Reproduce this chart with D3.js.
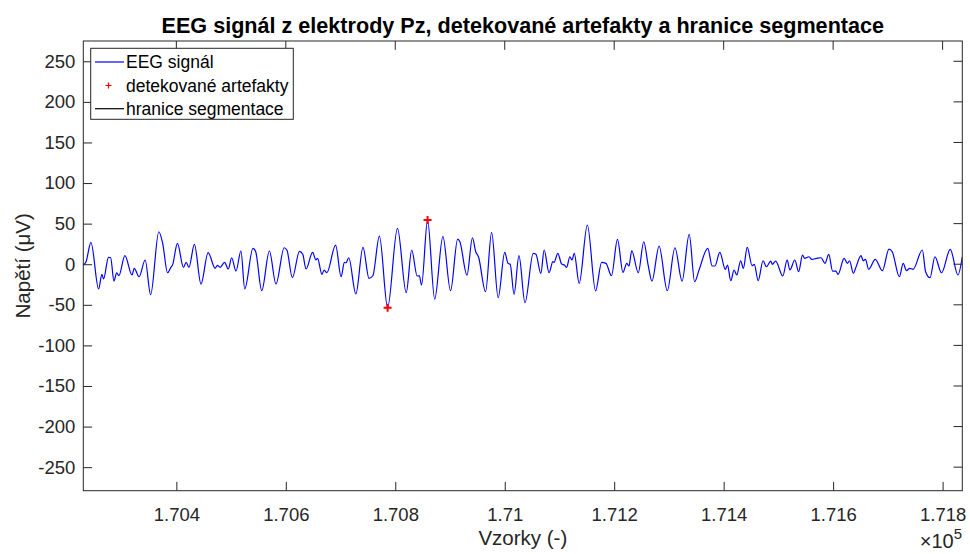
<!DOCTYPE html>
<html>
<head>
<meta charset="utf-8">
<script src="https://cdn.jsdelivr.net/npm/d3@7/dist/d3.min.js"></script>
<style>
  html, body { margin: 0; padding: 0; background: #fff; }
  svg { display: block; font-family: "Liberation Sans", Arial, Helvetica, sans-serif; }
</style>
</head>
<body>
<svg id="chart" width="970" height="554"></svg>
<script>
// Sample indices of the EEG trace (channel Pz)
const sampleIdx = [
  170230, 170235, 170244, 170258, 170264, 170267, 170276, 170280, 170286, 170291,
  170295, 170306, 170319, 170323, 170332, 170343, 170353, 170368, 170375, 170384,
  170390, 170393, 170402, 170413, 170418, 170423, 170433, 170445, 170458, 170471,
  170475, 170480, 170488, 170495, 170501, 170509, 170518, 170525, 170540, 170545,
  170556, 170570, 170582, 170597, 170602, 170612, 170625, 170631, 170637, 170649,
  170655, 170658, 170666, 170670, 170675, 170691, 170701, 170707, 170710, 170715,
  170728, 170741, 170752, 170759, 170771, 170786, 170804, 170820, 170830, 170840,
  170844, 170848, 170859, 170872, 170887, 170901, 170914, 170918, 170931, 170941,
  170947, 170952, 170965, 170976, 170988, 171000, 171006, 171010, 171017, 171026,
  171037, 171052, 171057, 171066, 171072, 171081, 171088, 171090, 171097, 171104,
  171109, 171113, 171119, 171123, 171127, 171136, 171151, 171166, 171177, 171185,
  171195, 171206, 171216, 171223, 171227, 171232, 171244, 171254, 171262, 171269,
  171282, 171297, 171311, 171324, 171337, 171347, 171355, 171371, 171379, 171384,
  171393, 171403, 171407, 171413, 171419, 171424, 171431, 171436, 171443, 171452,
  171456, 171463, 171472, 171478, 171486, 171489, 171495, 171508, 171516, 171521,
  171530, 171537, 171544, 171548, 171556, 171561, 171570, 171578, 171585, 171592,
  171599, 171605, 171609, 171620, 171626, 171630, 171637, 171641, 171651, 171655,
  171659, 171665, 171677, 171690, 171702, 171708, 171721, 171728, 171734, 171740,
  171746, 171763, 171769, 171777, 171786, 171798, 171814, 171828, 171836
];

// Voltage at each sample (µV)
const eegValues = [
  -1.0, 3.1, 27.0, -30.5, -12.4, -18.2, 8.5, 8.0, -20.7, -10.5,
  -14.2, 10.5, -13.3, -5.0, -15.4, 5.2, -37.6, 40.0, 25.7, -10.5,
  -3.8, -1.0, 25.7, -3.8, 2.3, -3.8, 24.5, -24.4, 14.2, -5.0,
  -1.4, -3.8, 2.3, -5.9, 8.0, -8.4, 16.3, -30.5, 19.6, 15.4,
  -32.6, 16.3, -24.4, 20.3, 17.5, -16.6, 15.9, 12.2, -5.9, 14.7,
  5.2, 7.3, -12.4, -7.1, -10.5, 23.6, -15.4, 2.3, 1.8, 8.0,
  -36.7, 20.8, -17.4, -14.2, 34.7, -53.6, 44.2, -35.1, 17.5, -14.5,
  -14.2, -25.6, 54.4, -42.9, 33.9, -32.6, 31.0, 27.7, -13.3, 32.6,
  15.4, 9.2, -33.9, 39.3, -41.3, 14.7, 1.1, -0.1, -37.1, 10.5,
  -47.4, 13.4, 12.2, -11.2, 17.5, -10.5, 3.1, 2.3, 13.4, 0.2,
  -1.0, -3.8, 9.2, 5.2, 13.4, -23.5, 48.3, -33.0, 2.3, 1.1,
  -14.2, 30.7, -10.0, 1.1, -2.2, 16.6, -10.5, 27.7, -1.0, -20.7,
  22.4, -32.6, 20.3, -20.7, 36.8, -21.6, -7.1, 19.6, -2.2, -2.2,
  14.7, -6.3, -1.0, -20.3, -7.1, -13.3, 4.3, -5.0, 20.8, -1.8,
  -0.1, -20.3, 4.3, -3.1, 3.9, -0.1, 3.9, -14.5, 5.2, -7.1,
  5.2, -9.2, 11.3, 7.3, 9.2, 6.0, 7.3, 8.0, 1.1, 12.2,
  -8.4, -8.4, -12.4, 7.3, 1.1, 4.3, -11.2, -5.0, 10.5, 4.3,
  6.0, -6.3, 6.0, -8.0, 18.7, 15.4, -15.4, 1.1, -8.0, -5.0,
  -6.3, 17.5, -9.2, -16.6, 9.2, -10.5, 18.3, -13.3, 9.2
];

// Detected artefacts
const artifactSamples = [170786, 170859];
const artifactValues = [-53.6, 54.4];

// Segmentation boundaries inside the shown window (none fall here)
const segmentBoundaries = [];

// Axis ticks
const xTicks = [170400, 170600, 170800, 171000, 171200, 171400, 171600, 171800];
const yTicks = [-250, -200, -150, -100, -50, 0, 50, 100, 150, 200, 250];

const legendLabels = ["EEG signál", "detekované artefakty", "hranice segmentace"];

const axisColor = "#262626";
const svg = d3.select("#chart");

const plot = { left: 83.3, right: 962.3, top: 41, bottom: 490.7 };
const x = d3.scaleLinear().domain([170230, 171836]).range([plot.left, plot.right]);
const y = d3.scaleLinear().domain([-279, 275]).range([plot.bottom, plot.top]);
const tickLen = 8.8;

// Title
svg.append("text")
  .attr("x", (plot.left + plot.right) / 2)
  .attr("y", 33)
  .attr("text-anchor", "middle")
  .attr("font-size", "21.6px")
  .attr("font-weight", "bold")
  .attr("fill", "#000")
  .text("EEG signál z elektrody Pz, detekované artefakty a hranice segmentace");

// Clip region for the data
svg.append("defs").append("clipPath").attr("id", "clip")
  .append("rect")
  .attr("x", plot.left).attr("y", plot.top)
  .attr("width", plot.right - plot.left).attr("height", plot.bottom - plot.top);

const dataG = svg.append("g").attr("clip-path", "url(#clip)");

// Signal trace
const points = sampleIdx.map((s, i) => [s, eegValues[i]]);
const line = d3.line()
  .x(d => x(d[0]))
  .y(d => y(d[1]))
  .curve(d3.curveMonotoneX);

dataG.append("path")
  .datum(points)
  .attr("d", line)
  .attr("fill", "none")
  .attr("stroke", "#0000ff")
  .attr("stroke-width", 1.2)
  .attr("stroke-linejoin", "round");

// Segmentation boundaries as vertical lines
dataG.selectAll("line.seg")
  .data(segmentBoundaries)
  .enter().append("line")
  .attr("class", "seg")
  .attr("x1", d => x(d)).attr("x2", d => x(d))
  .attr("y1", plot.top).attr("y2", plot.bottom)
  .attr("stroke", "#000").attr("stroke-width", 1);

// Artefact markers ("+")
const plusPath = (cx, cy, r) => `M${cx - r},${cy}H${cx + r}M${cx},${cy - r}V${cy + r}`;
dataG.selectAll("path.art")
  .data(artifactSamples.map((s, i) => [s, artifactValues[i]]))
  .enter().append("path")
  .attr("class", "art")
  .attr("d", d => plusPath(x(d[0]), y(d[1]), 4))
  .attr("stroke", "#ff0000")
  .attr("stroke-width", 2)
  .attr("fill", "none");

// Axes frame
const axesG = svg.append("g");
axesG.append("rect")
  .attr("x", plot.left).attr("y", plot.top)
  .attr("width", plot.right - plot.left).attr("height", plot.bottom - plot.top)
  .attr("fill", "none").attr("stroke", axisColor).attr("stroke-width", 1);

// Bottom axis (inward ticks)
const xAxis = d3.axisBottom(x)
  .tickValues(xTicks)
  .tickSize(-tickLen)
  .tickPadding(17)
  .tickFormat(d => d3.format(".4~f")(d / 1e5));
const gx = svg.append("g").attr("transform", `translate(0,${plot.bottom})`).call(xAxis);
gx.select(".domain").remove();
gx.selectAll("line").attr("stroke", axisColor);
gx.selectAll("text").attr("fill", axisColor).attr("font-size", "18.5px")
  .attr("font-family", "Liberation Sans, Arial, sans-serif");

// Top ticks
svg.append("g").selectAll("line")
  .data(xTicks).enter().append("line")
  .attr("x1", d => x(d)).attr("x2", d => x(d))
  .attr("y1", plot.top).attr("y2", plot.top + tickLen)
  .attr("stroke", axisColor);

// Left axis
const yAxis = d3.axisLeft(y)
  .tickValues(yTicks)
  .tickSize(-tickLen)
  .tickPadding(8)
  .tickFormat(d3.format("d"));
const gy = svg.append("g").attr("transform", `translate(${plot.left},0)`).call(yAxis);
gy.select(".domain").remove();
gy.selectAll("line").attr("stroke", axisColor);
gy.selectAll("text").attr("fill", axisColor).attr("font-size", "18.5px")
  .attr("font-family", "Liberation Sans, Arial, sans-serif")
  .text(d => d < 0 ? "-" + Math.abs(d) : String(d));

// Right ticks
svg.append("g").selectAll("line")
  .data(yTicks).enter().append("line")
  .attr("x1", plot.right - tickLen).attr("x2", plot.right)
  .attr("y1", d => y(d)).attr("y2", d => y(d))
  .attr("stroke", axisColor);

// Axis labels
svg.append("text")
  .attr("x", (plot.left + plot.right) / 2)
  .attr("y", 545)
  .attr("text-anchor", "middle")
  .attr("font-size", "20.5px")
  .attr("fill", axisColor)
  .text("Vzorky (-)");

svg.append("text")
  .attr("transform", `translate(30,${(plot.top + plot.bottom) / 2}) rotate(-90)`)
  .attr("text-anchor", "middle")
  .attr("font-size", "20.5px")
  .attr("fill", axisColor)
  .text("Napětí (μV)");

// Exponent marker
const expText = svg.append("text")
  .attr("x", 962)
  .attr("y", 548)
  .attr("text-anchor", "end")
  .attr("font-size", "20px")
  .attr("fill", axisColor);
expText.append("tspan").text("×10");
expText.append("tspan").attr("dy", -9).attr("font-size", "15px").text("5");

// Legend
const lg = svg.append("g");
lg.append("rect")
  .attr("x", 90.7).attr("y", 48.3)
  .attr("width", 202.6).attr("height", 71)
  .attr("fill", "#fff").attr("stroke", axisColor).attr("stroke-width", 1);

const rowY = [62, 85.5, 108.7];
legendLabels.forEach((lbl, i) => {
  const yy = rowY[i];
  if (i === 0 || i === 2) {
    lg.append("line")
      .attr("x1", 95).attr("x2", 124)
      .attr("y1", yy).attr("y2", yy)
      .attr("stroke", i === 0 ? "#0000ff" : "#000")
      .attr("stroke-width", 1.2);
  } else {
    lg.append("path")
      .attr("d", plusPath(108.5, yy, 3))
      .attr("stroke", "#ff0000").attr("stroke-width", 1.2).attr("fill", "none");
  }
  lg.append("text")
    .attr("x", 126).attr("y", yy)
    .attr("dy", "0.35em")
    .attr("font-size", "17.5px")
    .attr("fill", "#000")
    .text(lbl);
});
</script>
</body>
</html>
